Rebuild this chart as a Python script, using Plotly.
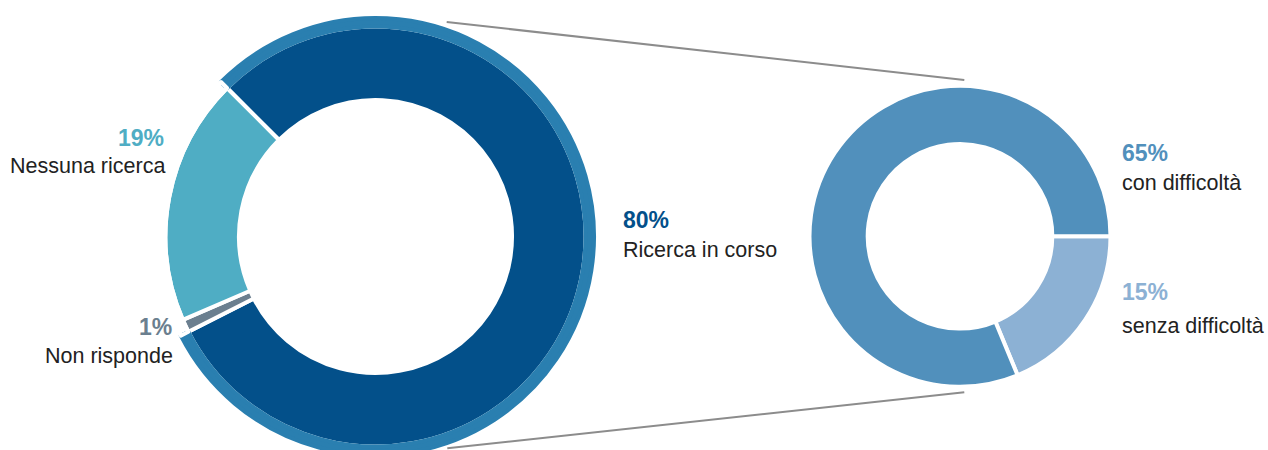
import plotly.graph_objects as go

W, H = 1268, 460  # page viewport is 450 tall; the big ring is clipped at the bottom like the reference

# ---- data ----
main_labels = ["Ricerca in corso", "Non risponde", "Nessuna ricerca"]
main_values = [80, 1, 19]
main_colors = ["#03508a", "#6b7f8f", "#4fadc4"]
band_color = "#2a7fb0"

detail_labels = ["senza difficoltà", "con difficoltà"]
detail_values = [15, 65]
detail_colors = ["#8cb1d4", "#5190bc"]


def domain(cx, cy, r):
    return dict(x=[(cx - r) / W, (cx + r) / W],
                y=[1 - (cy + r) / H, 1 - (cy - r) / H])


fig = go.Figure()

# left donut (main)
cxL, cyL = 375.5, 236.5
rB, holeB = 210, 136.5
fig.add_trace(go.Pie(
    labels=main_labels, values=main_values, sort=False,
    direction="clockwise", rotation=-45,
    hole=holeB / rB, domain=domain(cxL, cyL, rB),
    marker=dict(colors=main_colors, line=dict(color="white", width=4)),
    textinfo="none", hoverinfo="label+percent", showlegend=False,
))
# outer band on the 80% slice
rA, holeA = 218.5, 210
fig.add_trace(go.Pie(
    labels=main_labels, values=main_values, sort=False,
    direction="clockwise", rotation=-45,
    hole=holeA / rA, domain=domain(cxL, cyL, rA),
    marker=dict(colors=[band_color, "rgba(0,0,0,0)", "rgba(0,0,0,0)"],
                line=dict(color=[band_color, "white", "white"], width=4)),
    textinfo="none", hoverinfo="skip", showlegend=False,
))

# right donut (detail of 80%)
cxR, cyR = 960, 236.3
rR, holeR = 150.5, 92.3
fig.add_trace(go.Pie(
    labels=detail_labels, values=detail_values, sort=False,
    direction="clockwise", rotation=90,
    hole=holeR / rR, domain=domain(cxR, cyR, rR),
    marker=dict(colors=detail_colors, line=dict(color="white", width=4)),
    textinfo="none", hoverinfo="label+value", showlegend=False,
))

# connector lines
for (x0, y0, x1, y1) in [(446.7, 22, 964.3, 80), (447.3, 448.3, 964.3, 392.3)]:
    fig.add_shape(type="line", xref="paper", yref="paper",
                  x0=x0 / W, y0=1 - y0 / H, x1=x1 / W, y1=1 - y1 / H,
                  line=dict(color="#8c8c8c", width=2))

FONT = "Liberation Sans, Arial, sans-serif"
TXT = "#222222"


def ann(text, x, y, xanchor, color, size, bold=False):
    fig.add_annotation(
        text=f"<b>{text}</b>" if bold else text,
        x=x / W, y=1 - y / H, xref="paper", yref="paper",
        xanchor=xanchor, yanchor="middle", showarrow=False,
        font=dict(family=FONT, size=size, color=color),
    )


pct = lambda v: f"{v}%"
ann(pct(main_values[2]), 166.5, 138.3, "right", main_colors[2], 23, True)
ann(main_labels[2], 167, 166.2, "right", TXT, 21.5)
ann(pct(main_values[1]), 174, 326.7, "right", main_colors[1], 23, True)
ann(main_labels[1], 174.5, 355.8, "right", TXT, 21.5)
ann(pct(main_values[0]), 621, 220.3, "left", main_colors[0], 23, True)
ann(main_labels[0], 621, 249.8, "left", TXT, 21.5)
ann(pct(detail_values[1]), 1120, 152.5, "left", detail_colors[1], 23, True)
ann(detail_labels[1], 1120, 182.5, "left", TXT, 21.5)
ann(pct(detail_values[0]), 1120, 292, "left", detail_colors[0], 23, True)
ann(detail_labels[0], 1120, 325.8, "left", TXT, 21.5)

fig.update_layout(
    width=W, height=H,
    margin=dict(l=0, r=0, t=0, b=0),
    paper_bgcolor="white", plot_bgcolor="white",
    showlegend=False,
)

fig.write_html(
    "out.html",
    config={"displayModeBar": False},
    post_script="document.body.style.margin='0';document.body.style.overflow='hidden';",
)
